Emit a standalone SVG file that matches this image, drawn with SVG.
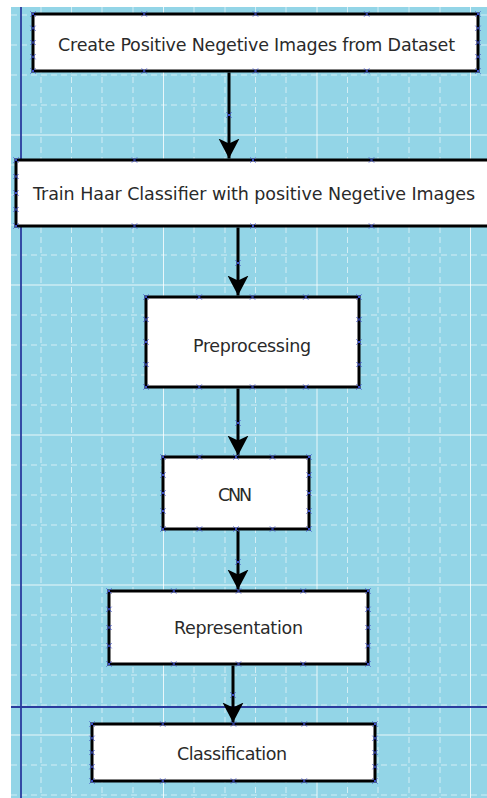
<svg xmlns="http://www.w3.org/2000/svg" xmlns:xlink="http://www.w3.org/1999/xlink" width="487" height="798" viewBox="0 0 487 798">
<style>
.bg{fill:#93d5e7}
.gd{fill:none;stroke:#ffffff;stroke-opacity:0.6;stroke-width:1;stroke-dasharray:6 4}
.gs{fill:none;stroke:#ffffff;stroke-opacity:0.8;stroke-width:1}
.guide{fill:none;stroke:#2a3c9e;stroke-width:1.8}
.box{fill:#ffffff;stroke:#000000;stroke-width:3}
.lbl{font-family:"DejaVu Sans","Liberation Sans",sans-serif;font-size:17.5px;fill:#2a2a2a;text-anchor:middle}
.conn{fill:none;stroke:#000000;stroke-width:3}
.xm{fill:none;stroke:#3b4bc4;stroke-width:1}
</style>
<defs>
<marker id="ah" markerUnits="userSpaceOnUse" viewBox="0 0 20 22" refX="20" refY="11" markerWidth="20" markerHeight="22" orient="auto">
<path d="M0 0.5L20 11L0 21.5L5 11Z" fill="#000000"/>
</marker>
<path id="xk" class="xm" d="M-2.5 -2.5L2.5 2.5M-2.5 2.5L2.5 -2.5"/>
</defs>
<rect x="0" y="0" width="487" height="798" fill="#ffffff"/>
<rect class="bg" x="11" y="7" width="476" height="791"/>
<g id="grid">
<path class="gd" d="M41 7V798M71.5 7V798M102 7V798M133 7V798M194 7V798M225 7V798M255.5 7V798M286 7V798M347.5 7V798M378 7V798M409 7V798M440 7V798"/>
<path class="gs" d="M163.5 7V798M317 7V798M470.5 7V798"/>
<path class="gd" d="M11 15H487M11 45H487M11 75H487M11 105H487M11 165H487M11 195H487M11 225H487M11 255H487M11 315H487M11 345H487M11 375H487M11 405H487M11 465H487M11 495H487M11 525H487M11 555H487M11 615H487M11 645H487M11 675H487M11 705H487M11 765H487M11 795H487"/>
<path class="gs" d="M11 135H487M11 285H487M11 435H487M11 585H487M11 735H487"/>
<path class="guide" d="M21 7V798M11 707H487"/>
</g>
<g id="connectors">
<path class="conn" d="M229 72.5V158.5" marker-end="url(#ah)"/>
<path class="conn" d="M238 227.5V295.5" marker-end="url(#ah)"/>
<path class="conn" d="M238 388.5V455.5" marker-end="url(#ah)"/>
<path class="conn" d="M238 530.5V589.5" marker-end="url(#ah)"/>
<path class="conn" d="M233 665.5V722.5" marker-end="url(#ah)"/>
<use href="#xk" x="229" y="115"/>
<use href="#xk" x="238" y="263"/>
<use href="#xk" x="238" y="423"/>
<use href="#xk" x="238" y="562"/>
<use href="#xk" x="233" y="695"/>
</g>
<g id="node1">
<rect class="box" x="33" y="14" width="445" height="57"/>
<text class="lbl" x="256.5" y="51" textLength="397" lengthAdjust="spacing">Create Positive Negetive Images from Dataset</text>
<use href="#xk" x="33" y="14"/><use href="#xk" x="144.25" y="14"/><use href="#xk" x="255.5" y="14"/><use href="#xk" x="366.75" y="14"/><use href="#xk" x="478" y="14"/>
<use href="#xk" x="33" y="71"/><use href="#xk" x="144.25" y="71"/><use href="#xk" x="255.5" y="71"/><use href="#xk" x="366.75" y="71"/><use href="#xk" x="478" y="71"/>
<use href="#xk" x="33" y="28.25"/><use href="#xk" x="33" y="42.5"/><use href="#xk" x="33" y="56.75"/>
<use href="#xk" x="478" y="28.25"/><use href="#xk" x="478" y="42.5"/><use href="#xk" x="478" y="56.75"/>
</g>
<g id="node2">
<rect class="box" x="16" y="160" width="474" height="66"/>
<text class="lbl" x="254" y="200" textLength="442" lengthAdjust="spacing">Train Haar Classifier with positive Negetive Images</text>
<use href="#xk" x="16" y="160"/><use href="#xk" x="134.5" y="160"/><use href="#xk" x="253" y="160"/><use href="#xk" x="371.5" y="160"/>
<use href="#xk" x="16" y="226"/><use href="#xk" x="134.5" y="226"/><use href="#xk" x="253" y="226"/><use href="#xk" x="371.5" y="226"/>
<use href="#xk" x="16" y="176.5"/><use href="#xk" x="16" y="193"/><use href="#xk" x="16" y="209.5"/>
</g>
<g id="node3">
<rect class="box" x="146" y="297" width="213" height="90"/>
<text class="lbl" x="252" y="352" textLength="118" lengthAdjust="spacing">Preprocessing</text>
<use href="#xk" x="146" y="297"/><use href="#xk" x="199.25" y="297"/><use href="#xk" x="252.5" y="297"/><use href="#xk" x="305.75" y="297"/><use href="#xk" x="359" y="297"/>
<use href="#xk" x="146" y="387"/><use href="#xk" x="199.25" y="387"/><use href="#xk" x="252.5" y="387"/><use href="#xk" x="305.75" y="387"/><use href="#xk" x="359" y="387"/>
<use href="#xk" x="146" y="319.5"/><use href="#xk" x="146" y="342"/><use href="#xk" x="146" y="364.5"/>
<use href="#xk" x="359" y="319.5"/><use href="#xk" x="359" y="342"/><use href="#xk" x="359" y="364.5"/>
</g>
<g id="node4">
<rect class="box" x="163" y="457" width="146" height="72"/>
<text class="lbl" x="235" y="501" textLength="34" lengthAdjust="spacing">CNN</text>
<use href="#xk" x="163" y="457"/><use href="#xk" x="199.5" y="457"/><use href="#xk" x="236" y="457"/><use href="#xk" x="272.5" y="457"/><use href="#xk" x="309" y="457"/>
<use href="#xk" x="163" y="529"/><use href="#xk" x="199.5" y="529"/><use href="#xk" x="236" y="529"/><use href="#xk" x="272.5" y="529"/><use href="#xk" x="309" y="529"/>
<use href="#xk" x="163" y="475"/><use href="#xk" x="163" y="493"/><use href="#xk" x="163" y="511"/>
<use href="#xk" x="309" y="475"/><use href="#xk" x="309" y="493"/><use href="#xk" x="309" y="511"/>
</g>
<g id="node5">
<rect class="box" x="109" y="591" width="259" height="73"/>
<text class="lbl" x="238.5" y="634" textLength="129" lengthAdjust="spacing">Representation</text>
<use href="#xk" x="109" y="591"/><use href="#xk" x="173.75" y="591"/><use href="#xk" x="238.5" y="591"/><use href="#xk" x="303.25" y="591"/><use href="#xk" x="368" y="591"/>
<use href="#xk" x="109" y="664"/><use href="#xk" x="173.75" y="664"/><use href="#xk" x="238.5" y="664"/><use href="#xk" x="303.25" y="664"/><use href="#xk" x="368" y="664"/>
<use href="#xk" x="109" y="609.25"/><use href="#xk" x="109" y="627.5"/><use href="#xk" x="109" y="645.75"/>
<use href="#xk" x="368" y="609.25"/><use href="#xk" x="368" y="627.5"/><use href="#xk" x="368" y="645.75"/>
</g>
<g id="node6">
<rect class="box" x="92" y="724" width="283" height="57"/>
<text class="lbl" x="232" y="760" textLength="110" lengthAdjust="spacing">Classification</text>
<use href="#xk" x="92" y="724"/><use href="#xk" x="162.75" y="724"/><use href="#xk" x="233.5" y="724"/><use href="#xk" x="304.25" y="724"/><use href="#xk" x="375" y="724"/>
<use href="#xk" x="92" y="781"/><use href="#xk" x="162.75" y="781"/><use href="#xk" x="233.5" y="781"/><use href="#xk" x="304.25" y="781"/><use href="#xk" x="375" y="781"/>
<use href="#xk" x="92" y="738.25"/><use href="#xk" x="92" y="752.5"/><use href="#xk" x="92" y="766.75"/>
<use href="#xk" x="375" y="738.25"/><use href="#xk" x="375" y="752.5"/><use href="#xk" x="375" y="766.75"/>
</g>
</svg>
